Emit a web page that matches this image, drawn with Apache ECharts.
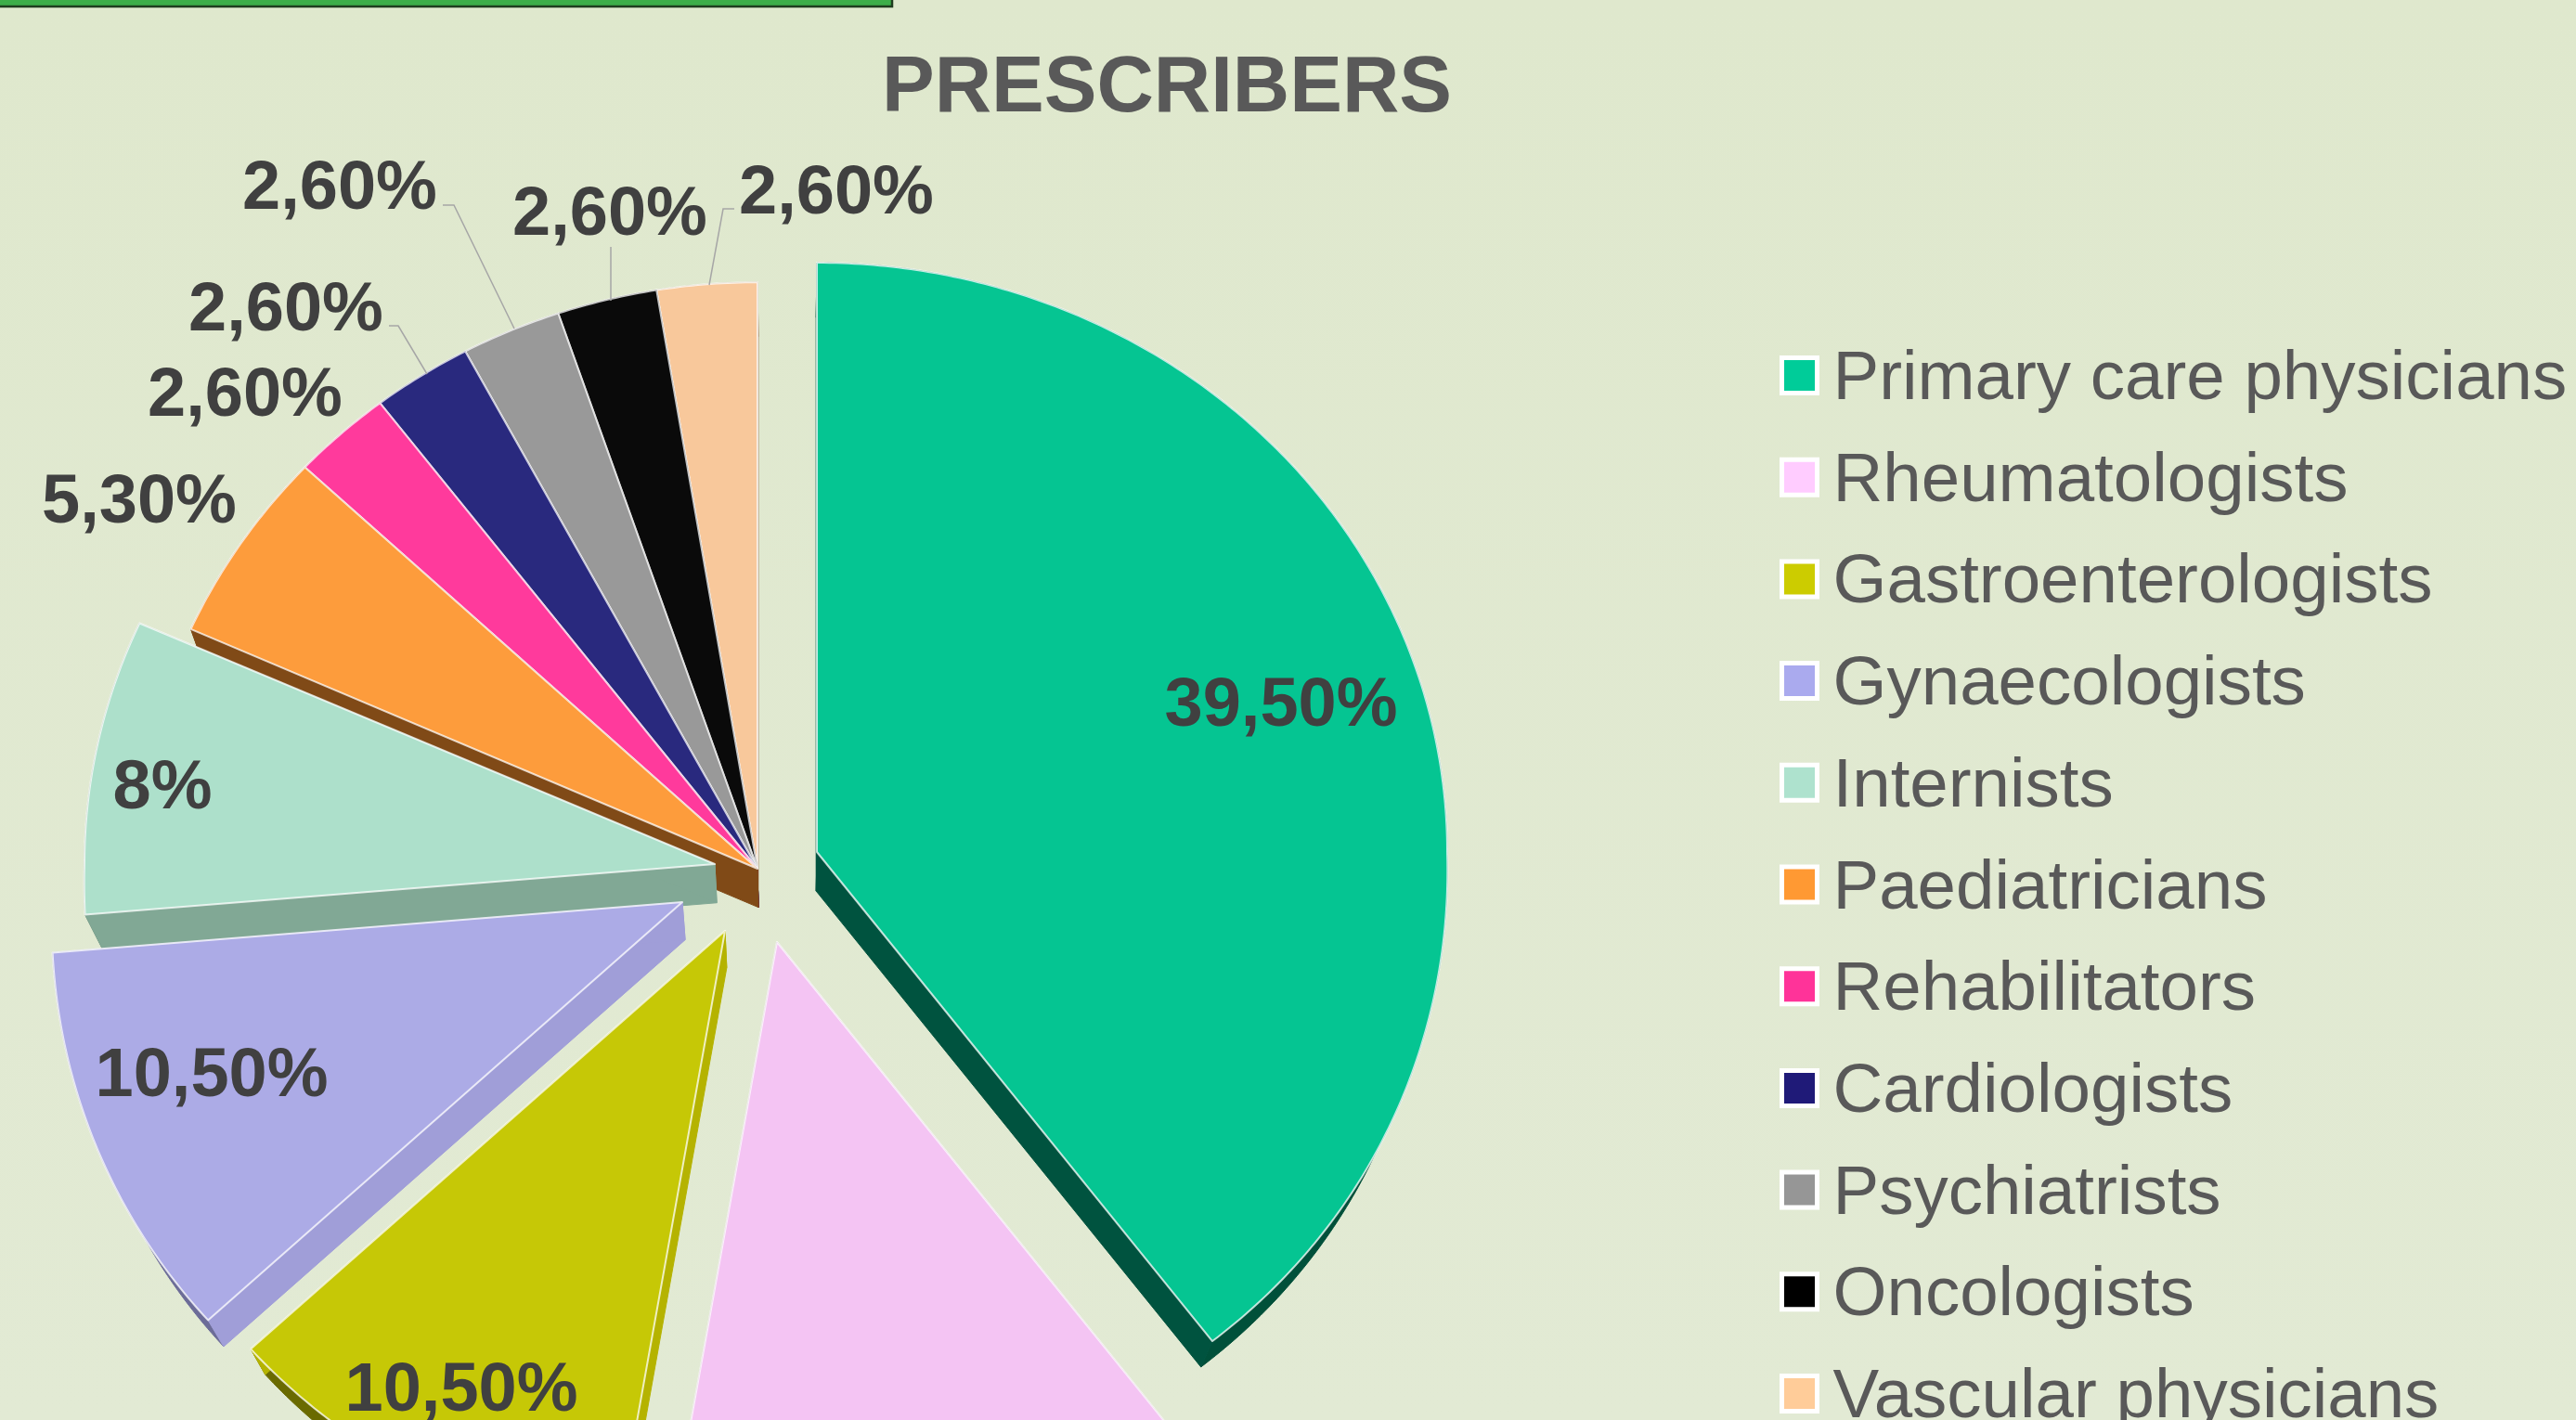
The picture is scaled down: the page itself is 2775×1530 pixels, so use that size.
<!DOCTYPE html>
<html>
<head>
<meta charset="utf-8">
<title>Prescribers</title>
<style>
  html, body { margin: 0; padding: 0; background: #e0e9d0; }
  #chart { width: 2775px; height: 1530px; }
</style>
<script src="https://cdn.jsdelivr.net/npm/echarts@6/dist/echarts.min.js"></script>
</head>
<body>
<div id="chart"></div>
<script>
const categories = ['Primary care physicians', 'Rheumatologists', 'Gastroenterologists', 'Gynaecologists', 'Internists',
  'Paediatricians', 'Rehabilitators', 'Cardiologists', 'Psychiatrists', 'Oncologists', 'Vascular physicians']
const shares = [39.5, 13.2, 10.5, 10.5, 8, 5.3, 2.6, 2.6, 2.6, 2.6, 2.6]
// Rheumatologists' label falls below the crop, so it stays empty
const labels = ['39,50%', '', '10,50%', '10,50%', '8%', '5,30%', '2,60%', '2,60%', '2,60%', '2,60%', '2,60%']

// styles
const faceColors = ['#05C592', '#F4C4F3', '#C6C806', '#ACABE6', '#ADE0CB', '#FD9C3C', '#FF3A9C', '#29297E', '#999999', '#0A0A0A', '#F8C89B']
const sideColors = ['#00533F', '#A888A8', '#B5B300', '#A09ED8', '#81A895', '#804A17', '#A02060', '#15154A', '#606060', '#000000', '#A08060']
const rimColors = ['#00503A', '#806080', '#6A6A00', '#6C6C98', '#5A7A6A', '#804A17', '#A02060', '#15154A', '#606060', '#000000', '#A08060']
const legendColors = ['#00CC99', '#FFCCFF', '#CCCC00', '#AAAAEE', '#AEE2CE', '#FF9933', '#FF3399', '#1F1A78', '#969696', '#000000', '#FFCC99']

// layout of the exploded pie, drawn in perspective: the near half is a bit larger
const center = [816, 936]
const radiusX = 679
const radiusTop = 635
const radiusBottom = 667
const nearWiden = 0.03
const explode = [[64, -18], [21, 79], [-35, 67], [-81, 36], [-46, -5], [0, 0], [0, 0], [0, 0], [0, 0], [0, 0], [0, 0]]
const scaleX = [1, 1, 1, 1, 1, 0.985, 0.985, 0.985, 0.985, 0.985, 0.985]
const scaleY = [1, 1, 1, 1, 1, 0.995, 0.995, 0.995, 0.995, 0.995, 0.995]
// depth of the slices leans towards this vanishing point
const vanish = [850, 2477]
const depth = 0.027
const labelPos = [[1380, 762], null, [497, 1500], [228, 1161], [175, 851], [150, 543], [264, 428], [308, 336], [366, 205], [657, 233], [901, 210]]
const leaders = [
  [[419, 351], [429, 351], [460, 403]],
  [[477, 221], [489, 221], [554, 354]],
  [[658, 266], [658, 324]],
  [[791, 225], [779, 225], [764, 307]]
]

const total = shares.reduce((a, b) => a + b, 0)
const startAngles = []
shares.reduce((sum, v, i) => {
  startAngles[i] = sum / total * Math.PI * 2
  return sum + v
}, 0)

function lower(p) {
  return [p[0] + (vanish[0] - p[0]) * depth, p[1] + (vanish[1] - p[1]) * depth]
}

function renderSlice(idx) {
  return function (params, api) {
    const value = api.value(0)
    const a0 = startAngles[idx]
    const a1 = a0 + value / total * Math.PI * 2
    const apex = [center[0] + explode[idx][0], center[1] + explode[idx][1]]

    const arc = []
    const steps = Math.max(4, Math.ceil((a1 - a0) / 0.01))
    for (let s = 0; s <= steps; s++) {
      const a = a0 + (a1 - a0) * s / steps
      const c = Math.cos(a)
      const rx = radiusX * scaleX[idx] * (1 + nearWiden * Math.max(0, -c))
      const ry = (c > 0 ? radiusTop : radiusBottom) * scaleY[idx]
      arc.push([apex[0] + rx * Math.sin(a), apex[1] - ry * c])
    }
    const arcLow = arc.map(lower)
    const apexLow = lower(apex)
    const first = arc[0]
    const last = arc[arc.length - 1]

    const side = pts => ({
      type: 'polygon',
      shape: { points: pts },
      style: { fill: sideColors[idx], stroke: sideColors[idx], lineWidth: 1 }
    })
    const children = [
      {
        type: 'polygon',
        shape: { points: arc.concat(arcLow.slice().reverse()) },
        style: { fill: rimColors[idx], stroke: rimColors[idx], lineWidth: 1 }
      },
      side([apex, first, arcLow[0], apexLow]),
      side([apex, last, arcLow[arcLow.length - 1], apexLow]),
      {
        type: 'polygon',
        shape: { points: [apex].concat(arc) },
        style: { fill: faceColors[idx], stroke: 'rgba(255,255,255,0.75)', lineWidth: 2, lineJoin: 'round' }
      }
    ]
    if (labels[idx]) {
      children.push({
        type: 'text',
        style: {
          x: labelPos[idx][0],
          y: labelPos[idx][1],
          text: labels[idx],
          fill: '#404040',
          font: 'bold 74px "Liberation Sans", Arial, sans-serif',
          align: 'center',
          verticalAlign: 'middle'
        }
      })
    }
    return { type: 'group', children: children }
  }
}

// back slices first, so the exploded ones cover their neighbours' sides
const series = categories.map((name, i) => ({
  name: name,
  type: 'custom',
  coordinateSystem: 'none',
  silent: true,
  itemStyle: { color: legendColors[i] },
  data: [[shares[i]]],
  renderItem: renderSlice(i)
})).reverse()

const chart = echarts.init(document.getElementById('chart'))
chart.setOption({
  animation: false,
  backgroundColor: {
    type: 'linear', x: 0, y: 0, x2: 0, y2: 1,
    colorStops: [{ offset: 0, color: '#DFE8CD' }, { offset: 1, color: '#E2EAD4' }]
  },
  title: {
    text: 'PRESCRIBERS',
    left: 1252,
    top: 92,
    textAlign: 'center',
    textVerticalAlign: 'middle',
    textStyle: { fontFamily: '"Liberation Sans", Arial, sans-serif', fontWeight: 'bold', fontSize: 85, color: '#595959' }
  },
  legend: {
    orient: 'vertical',
    left: 1912,
    top: 357,
    // taller than the page, otherwise the last row wraps into a second column
    height: 1400,
    itemWidth: 38,
    itemHeight: 38,
    itemGap: 24.7,
    selectedMode: false,
    data: categories.map((name, i) => ({
      name: name,
      icon: 'rect',
      itemStyle: { color: legendColors[i], borderColor: '#FFFFFF', borderWidth: 5 }
    })),
    formatter: name => '{t|' + name + '}',
    textStyle: {
      rich: {
        t: { fontFamily: '"Liberation Sans", Arial, sans-serif', fontSize: 74.5, lineHeight: 75, color: '#595959', padding: [10, 0, 0, 12] }
      }
    }
  },
  graphic: leaders.map(pts => ({
    type: 'polyline',
    z: 100,
    shape: { points: pts },
    style: { stroke: '#A6A6A6', lineWidth: 1.5, fill: null }
  })).concat([{
    type: 'rect',
    z: 100,
    shape: { x: -6, y: -20, width: 967, height: 27 },
    style: { fill: '#3DAE49', stroke: '#1F3D1F', lineWidth: 2.5 }
  }]),
  series: series
})
</script>
</body>
</html>
